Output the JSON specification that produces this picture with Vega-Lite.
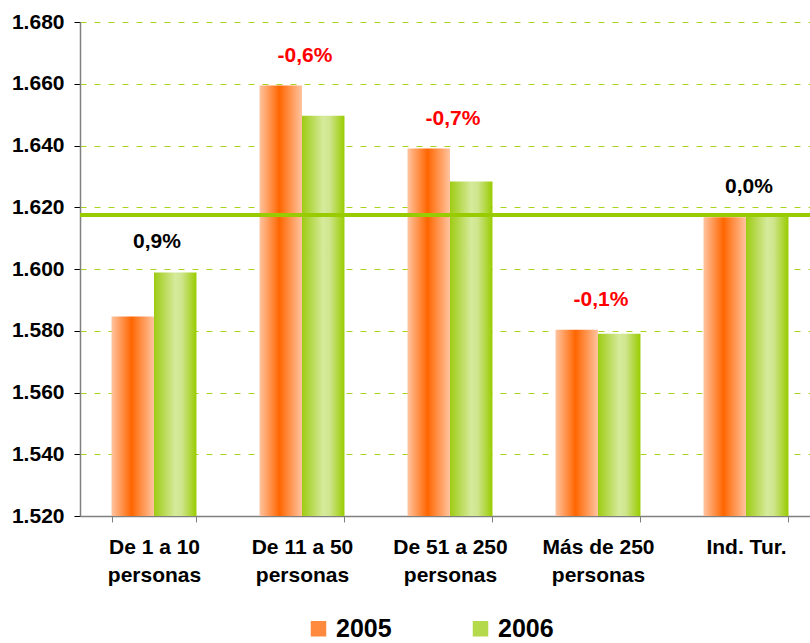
{
  "$schema": "https://vega.github.io/schema/vega-lite/v6.json",
  "width": 730,
  "height": 494,
  "autosize": "none",
  "padding": {"left": 80, "top": 22, "right": 0, "bottom": 127},
  "background": "white",
  "datasets": {
    "horas": [
      {"grupo": "De 1 a 10 personas", "anio": "2005", "valor": 1584.6},
      {"grupo": "De 1 a 10 personas", "anio": "2006", "valor": 1598.9},
      {"grupo": "De 11 a 50 personas", "anio": "2005", "valor": 1659.4},
      {"grupo": "De 11 a 50 personas", "anio": "2006", "valor": 1649.6},
      {"grupo": "De 51 a 250 personas", "anio": "2005", "valor": 1639.0},
      {"grupo": "De 51 a 250 personas", "anio": "2006", "valor": 1628.3},
      {"grupo": "Más de 250 personas", "anio": "2005", "valor": 1580.3},
      {"grupo": "Más de 250 personas", "anio": "2006", "valor": 1579.0},
      {"grupo": "Ind. Tur.", "anio": "2005", "valor": 1616.8},
      {"grupo": "Ind. Tur.", "anio": "2006", "valor": 1616.9}
    ],
    "variacion": [
      {"grupo": "De 1 a 10 personas", "texto": "0,9%", "cambio": 0.9},
      {"grupo": "De 11 a 50 personas", "texto": "-0,6%", "cambio": -0.6},
      {"grupo": "De 51 a 250 personas", "texto": "-0,7%", "cambio": -0.7},
      {"grupo": "Más de 250 personas", "texto": "-0,1%", "cambio": -0.1},
      {"grupo": "Ind. Tur.", "texto": "0,0%", "cambio": 0.0}
    ],
    "media": [{"valor": 1617.5}]
  },
  "config": {
    "locale": {"number": {"decimal": ",", "thousands": ".", "grouping": [3], "currency": ["", " €"]}},
    "font": "Liberation Sans",
    "view": {"stroke": null},
    "axisX": {
      "title": null,
      "labelAngle": 0,
      "labelFont": "Liberation Sans",
      "labelFontSize": 21,
      "labelFontWeight": "bold",
      "labelColor": "#000000",
      "labelLineHeight": 28,
      "labelPadding": 14,
      "tickBand": "extent",
      "tickSize": 6,
      "tickColor": "#808080",
      "domainColor": "#808080",
      "domainWidth": 1.5
    },
    "axisY": {
      "title": null,
      "labelFont": "Liberation Sans",
      "labelFontSize": 21,
      "labelFontWeight": "bold",
      "labelColor": "#000000",
      "labelPadding": 10,
      "tickSize": 6,
      "tickColor": "#000000",
      "domainColor": "#808080",
      "domainWidth": 1.5,
      "gridColor": "#A8D41C",
      "gridDash": [6, 8],
      "gridWidth": 1
    }
  },
  "layer": [
    {
      "data": {"name": "horas"},
      "transform": [{"filter": "datum.anio === '2005'"}],
      "mark": {
        "type": "bar",
        "color": {"gradient": "linear", "x1": 0, "y1": 0, "x2": 1, "y2": 0, "stops": [
          {"offset": 0, "color": "#FFC4A0"},
          {"offset": 0.47, "color": "#FF6600"},
          {"offset": 1, "color": "#FFC4A0"}
        ]}
      },
      "encoding": {
        "x": {
          "field": "grupo",
          "type": "nominal",
          "sort": ["De 1 a 10 personas", "De 11 a 50 personas", "De 51 a 250 personas", "Más de 250 personas", "Ind. Tur."],
          "scale": {"range": [0, 740], "paddingInner": 0.426, "paddingOuter": 0.213},
          "axis": {
            "labelExpr": "test(/ personas$/, '' + datum.label) ? [replace('' + datum.label, ' personas', ''), 'personas'] : datum.label"
          }
        },
        "xOffset": {"field": "anio", "type": "nominal", "scale": {"domain": ["2005", "2006"], "paddingInner": 0, "paddingOuter": 0}},
        "y": {
          "field": "valor",
          "type": "quantitative",
          "scale": {"domain": [1520, 1680], "zero": false, "nice": false},
          "axis": {
            "values": [1520, 1540, 1560, 1580, 1600, 1620, 1640, 1660, 1680],
            "format": ",.0f",
            "grid": true
          }
        },
        "y2": {"datum": 1520}
      }
    },
    {
      "data": {"name": "horas"},
      "transform": [{"filter": "datum.anio === '2006'"}],
      "mark": {
        "type": "bar",
        "color": {"gradient": "linear", "x1": 0, "y1": 0, "x2": 1, "y2": 0, "stops": [
          {"offset": 0, "color": "#9ECB12"},
          {"offset": 0.5, "color": "#D6EA9C"},
          {"offset": 0.65, "color": "#CFE58E"},
          {"offset": 1, "color": "#99CC00"}
        ]}
      },
      "encoding": {
        "x": {"field": "grupo", "type": "nominal", "sort": ["De 1 a 10 personas", "De 11 a 50 personas", "De 51 a 250 personas", "Más de 250 personas", "Ind. Tur."]},
        "xOffset": {"field": "anio", "type": "nominal", "scale": {"domain": ["2005", "2006"], "paddingInner": 0, "paddingOuter": 0}},
        "y": {"field": "valor", "type": "quantitative"},
        "y2": {"datum": 1520}
      }
    },
    {
      "data": {"name": "horas"},
      "mark": {"type": "square", "opacity": 0},
      "encoding": {
        "x": {"field": "grupo", "type": "nominal", "sort": ["De 1 a 10 personas", "De 11 a 50 personas", "De 51 a 250 personas", "Más de 250 personas", "Ind. Tur."]},
        "y": {"field": "valor", "type": "quantitative"},
        "color": {
          "field": "anio",
          "type": "nominal",
          "scale": {"domain": ["2005", "2006"], "range": ["#FF8A3D", "#B4D94A"]},
          "legend": {
            "title": null,
            "orient": "none",
            "legendX": 226,
            "legendY": 594,
            "direction": "horizontal",
            "symbolType": "square",
            "symbolSize": 240,
            "symbolStrokeWidth": 0,
            "symbolOpacity": 1,
            "labelFont": "Liberation Sans",
            "labelFontSize": 25,
            "labelFontWeight": "bold",
            "labelColor": "#000000",
            "labelOffset": 5,
            "columnPadding": 76
          }
        }
      }
    },
    {
      "data": {"name": "media"},
      "mark": {"type": "rule", "color": "#99CC00", "strokeWidth": 4},
      "encoding": {"y": {"field": "valor", "type": "quantitative"}}
    },
    {
      "data": {"name": "horas"},
      "transform": [
        {"aggregate": [{"op": "max", "field": "valor", "as": "valor"}], "groupby": ["grupo"]},
        {"lookup": "grupo", "from": {"data": {"name": "variacion"}, "key": "grupo", "fields": ["texto", "cambio"]}}
      ],
      "mark": {"type": "text", "font": "Liberation Sans", "fontSize": 21, "fontWeight": "bold", "baseline": "middle", "dy": -30, "dx": 3},
      "encoding": {
        "x": {"field": "grupo", "type": "nominal", "sort": ["De 1 a 10 personas", "De 11 a 50 personas", "De 51 a 250 personas", "Más de 250 personas", "Ind. Tur."]},
        "y": {"field": "valor", "type": "quantitative"},
        "text": {"field": "texto"},
        "color": {"condition": {"test": "datum.cambio < 0", "value": "#FF0000"}, "value": "#000000"}
      }
    }
  ]
}
